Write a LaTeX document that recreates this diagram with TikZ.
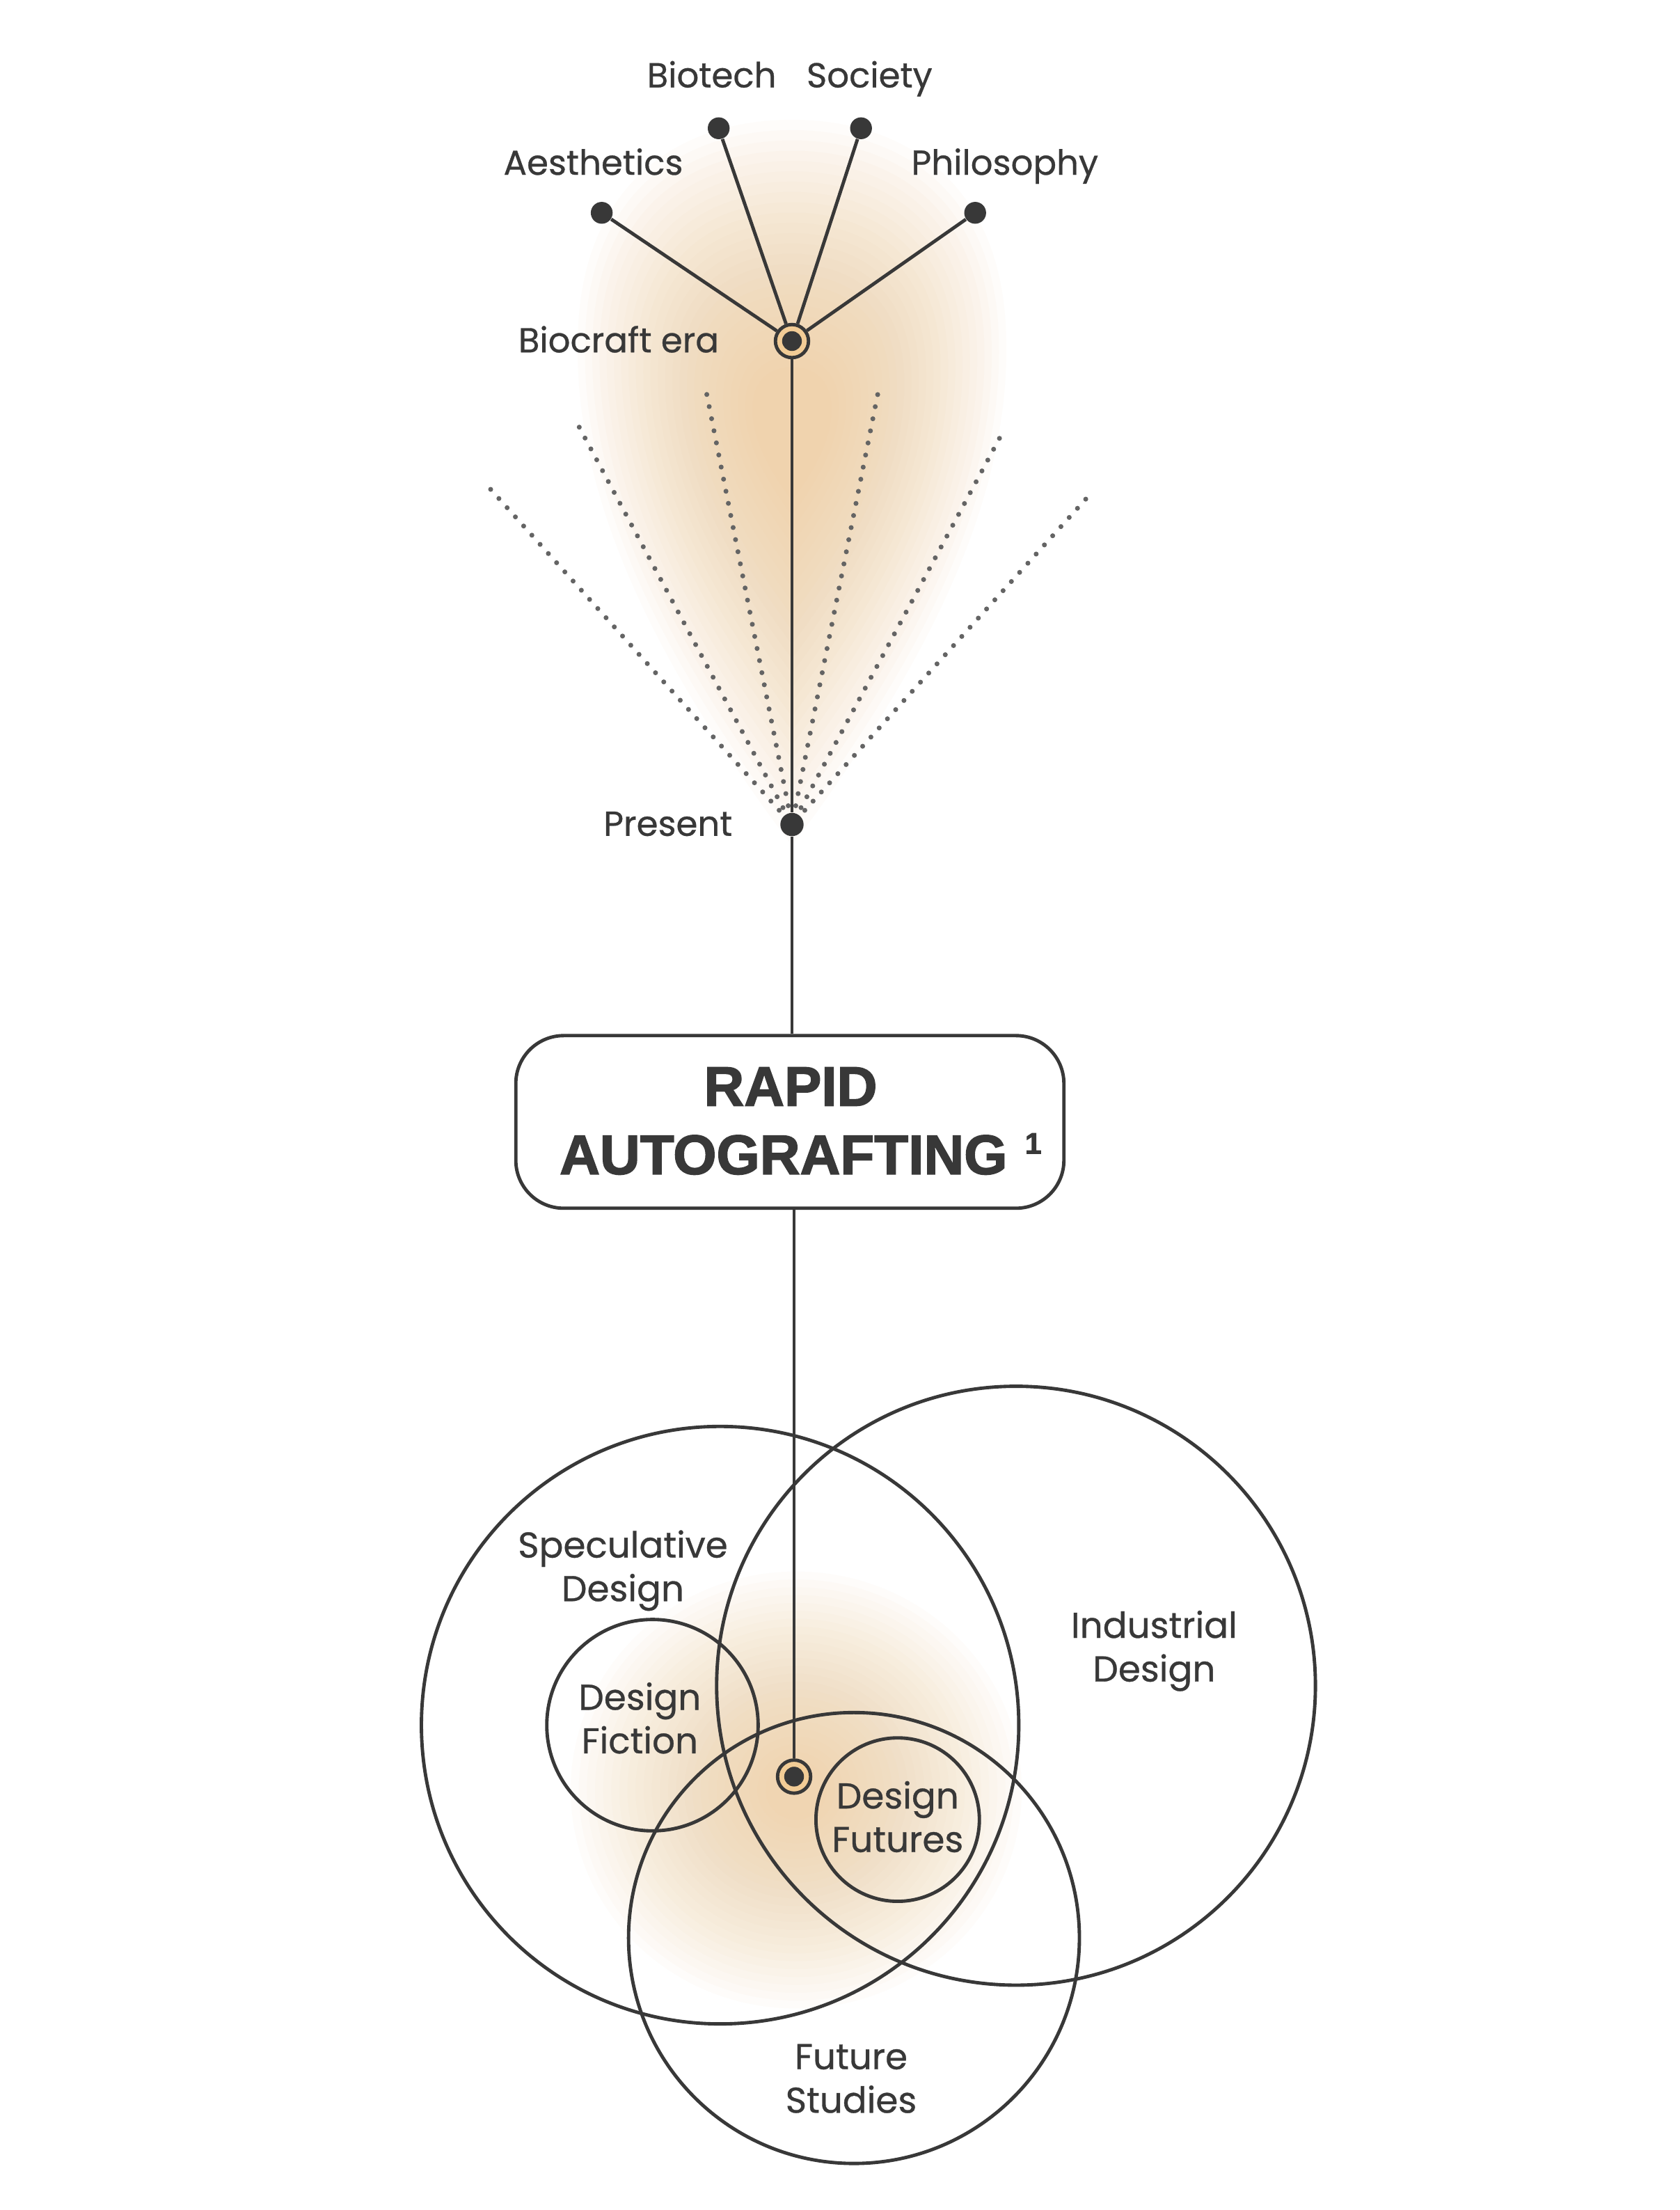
\documentclass[tikz,border=0pt]{standalone}
\usepackage{fontspec}
\setmainfont[FakeBold=0.6]{Poppins}
\newfontfamily\boxfont[FakeBold=2]{Liberation Sans Bold}
\usetikzlibrary{calc}
\definecolor{ink}{RGB}{56,56,56}
\definecolor{dotc}{RGB}{100,100,100}
\definecolor{glowc}{RGB}{240,198,145}
\definecolor{ringc}{RGB}{242,204,150}
\tikzset{
  ln/.style={draw=ink, line width=0.048cm},
  circ/.style={circle, draw=ink, line width=0.048cm, inner sep=0pt},
  bigdot/.style={circle, fill=ink, inner sep=0pt, minimum size=0.31cm},
  ringnode/.style={circle, draw=ink, fill=ringc, line width=0.048cm, inner sep=0pt, minimum size=0.47cm},
  ringin/.style={circle, fill=ink, inner sep=0pt, minimum size=0.28cm},
  dotl/.style={draw=dotc, line width=0.07cm, line cap=round, dash pattern=on 0pt off 0.175cm},
  lab/.style={text=ink, anchor=base, inner sep=0pt, font=\fontsize{14}{17}\selectfont},
  lab2/.style={text=ink, anchor=base, inner sep=0pt, align=center, font=\fontsize{14.5}{17.6}\selectfont},
  boxstyle/.style={draw=ink, line width=0.048cm, rounded corners=0.68cm, minimum width=7.78cm, minimum height=2.45cm, inner sep=0pt},
  boxtxt/.style={text=ink, anchor=base, inner sep=0pt, font=\boxfont\fontsize{22.5}{26}\selectfont}
}
\begin{document}
\begin{tikzpicture}[x=0.02cm, y=-0.02cm]
\useasboundingbox (0,0) rectangle (1192,1568);
\fill[white] (0,0) rectangle (1192,1568);
% top glow
\foreach \i in {0,...,24}{
  \pgfmathsetmacro\s{1-\i*0.034}
  \begin{scope}[shift={(562,300)}, scale=\s]
    \fill[glowc, fill opacity=0.042] (0,300) .. controls (-90,180) and (-155,60) .. (-152,-60)
      .. controls (-150,-170) and (-80,-215) .. (0,-215)
      .. controls (80,-215) and (150,-170) .. (152,-60)
      .. controls (155,60) and (90,180) .. (0,300) -- cycle;
  \end{scope}
}
% bottom glow
\foreach \i in {0,...,24}{
  \pgfmathsetmacro\s{1-\i*0.036}
  \begin{scope}[shift={(565,1270)}, scale=\s]
    \fill[glowc, fill opacity=0.04] (0,0) ellipse [x radius=160, y radius=155];
  \end{scope}
}
% dotted fan
\coordinate (d1) at (348,347);
\coordinate (d2) at (411,303);
\coordinate (d3) at (500,272);
\coordinate (d4) at (624,274);
\coordinate (d5) at (713,304);
\coordinate (d6) at (776,348);
\node[bigdot, minimum size=0.33cm] (pres) at (562,585) {};
\foreach \d in {d1,d2,d3,d4,d5,d6}{
  \draw[dotl, shorten <=0.1cm] (pres) -- (\d);
}
% top nodes
\node[ringnode] (bio) at (562,242) {};
\node[bigdot] (aesd) at (427,151) {};
\node[bigdot] (biod) at (510,91) {};
\node[bigdot] (socd) at (611,91) {};
\node[bigdot] (phid) at (692,151) {};
\draw[ln] (aesd) -- (bio);
\draw[ln] (biod) -- (bio);
\draw[ln] (socd) -- (bio);
\draw[ln] (phid) -- (bio);
\draw[ln] (bio) -- (pres);
\node[ringin] (bioin) at (bio) {};
\node[lab] (tbiotech) at (505,62) {Biotech};
\node[lab] (tsociety) at (617,62) {Society};
\node[lab] (taes) at (421,124) {Aesthetics};
\node[lab] (tphi) at (713,124) {Philosophy};
\node[lab] (tera) at (439,250) {Biocraft era};
\node[lab] (tpres) at (474,593) {Present};
% box
\node[boxstyle] (box) at (560.5,796) {};
\node[boxtxt] (t1) at (561,784.5) {RAPID};
\node[boxtxt] (t2) at (556,833) {AUTOGRAFTING};
\node[text=ink, anchor=base west, inner sep=0pt, font=\boxfont\fontsize{12}{14}\selectfont] (tsup) at (727,818.5) {1};
\draw[ln] (pres) -- (pres |- box.north);
% venn
\node[circ, minimum size=8.48cm] (spec) at (511,1224) {};
\node[circ, minimum size=8.50cm] (ind) at (721,1196) {};
\node[circ, minimum size=6.40cm] (fut) at (606,1375) {};
\node[circ, minimum size=3.00cm] (fic) at (463,1224) {};
\node[circ, minimum size=2.32cm] (dfut) at (637,1291) {};
\node[ringnode] (low) at (563.5,1260.5) {};
\draw[ln] (low |- box.south) -- (low);
\node[ringin] (lowin) at (low) {};
\node[lab2] (tspec) at (442,1136) {Speculative\\Design};
\node[lab2] (tfic) at (454,1244) {Design\\Fiction};
\node[lab2] (tind) at (819,1193) {Industrial\\Design};
\node[lab2] (tdfut) at (637,1314) {Design\\Futures};
\node[lab2] (tfut) at (604,1499) {Future\\Studies};
\end{tikzpicture}
\end{document}
